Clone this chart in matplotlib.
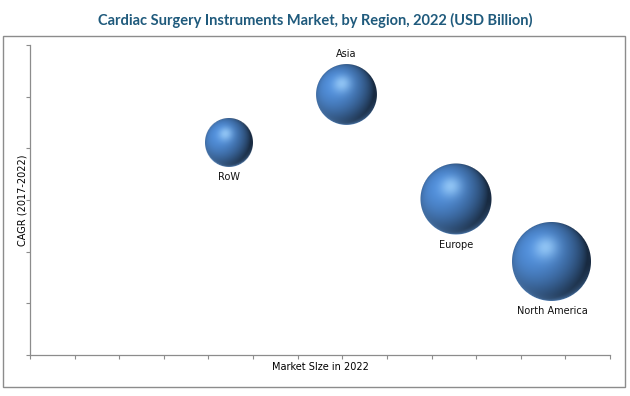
import matplotlib
matplotlib.use("Agg")
import matplotlib.pyplot as plt
import numpy as np
from matplotlib.offsetbox import OffsetImage, AnnotationBbox
from matplotlib.patches import Rectangle

# data (axis units have no labels, 0-13 by 0-6)
regions = ["RoW", "Asia", "Europe", "North America"]
market_size = [4.45, 7.09, 9.54, 11.70]
cagr = [4.10, 5.04, 3.01, 1.81]
bubble_value = [1.00, 1.61, 2.19, 2.71]
label_side = ["below", "above", "below", "below"]

DPI = 100
MAX_R = 39.5  # px radius of the largest bubble


def sphere_image(r):
    """RGBA picture of a shaded blue sphere, radius r px."""
    n = int(np.ceil(2 * r)) + 2
    c = (n - 1) / 2.0
    yy, xx = np.mgrid[0:n, 0:n]
    dx = (xx - c) / r
    dy = -(yy - c) / r
    d = np.sqrt(dx ** 2 + dy ** 2)
    dz = np.sqrt(np.clip(1 - dx ** 2 - dy ** 2, 0, 1))

    light = np.array([-0.5, 0.4, 1.0])
    light = light / np.linalg.norm(light)
    diff = np.clip(dx * light[0] + dy * light[1] + dz * light[2], 0, 1)

    base = np.array([0.29, 0.51, 0.78])
    img = base[None, None, :] * (0.33 + 0.78 * diff[..., None])

    hl = np.array([-0.15, 0.36, 0.92])
    hl = hl / np.linalg.norm(hl)
    spec = np.clip(dx * hl[0] + dy * hl[1] + dz * hl[2], 0, 1) ** 22
    img = img + (np.array([0.66, 0.85, 1.0]) - img) * (0.7 * spec)[..., None]

    rim = (1 - dz) ** 2 * np.clip(-dy - 0.2 * dx + 0.1, 0, 1)
    img = img + (np.array([0.40, 0.62, 0.88]) - img) * np.clip(0.8 * rim, 0, 1)[..., None]

    alpha = np.clip((r - d * r) + 0.5, 0, 1)
    out = np.dstack([np.clip(img, 0, 1), alpha])
    return out


fig = plt.figure(figsize=(6.3, 3.96), dpi=DPI)
fig.patch.set_facecolor("white")

# outer frame
fig.patches.append(Rectangle((3 / 630, 9 / 396), 622 / 630, 351 / 396,
                             transform=fig.transFigure, fill=False,
                             edgecolor="#8c8c8c", linewidth=1.0))

fig.text(0.5, 1 - 20 / 396, "Cardiac Surgery Instruments Market, by Region, 2022 (USD Billion)",
         ha="center", va="center", fontsize=10.5, fontweight="bold",
         color="#1f5a7c", family=["Lato", "DejaVu Sans"])

ax = fig.add_axes([30 / 630, 41 / 396, 580 / 630, 310 / 396])
ax.set_xlim(0, 13)
ax.set_ylim(0, 6)
ax.set_xticks(np.arange(0, 14))
ax.set_yticks(np.arange(0, 7))
ax.tick_params(labelbottom=False, labelleft=False, direction="out",
               length=3, width=0.8, color="#8c8c8c")
for side in ["top", "right"]:
    ax.spines[side].set_visible(False)
for side in ["left", "bottom"]:
    ax.spines[side].set_color("#8c8c8c")
    ax.spines[side].set_linewidth(0.9)

ax.set_xlabel("Market SIze in 2022", fontsize=7, labelpad=2)
ax.set_ylabel("CAGR (2017-2022)", fontsize=7, labelpad=-1)

vmax = max(bubble_value)
for name, x, y, v, side in zip(regions, market_size, cagr, bubble_value, label_side):
    r = MAX_R * np.sqrt(v / vmax)
    im = OffsetImage(sphere_image(r), zoom=72 / DPI, interpolation="bilinear")
    ab = AnnotationBbox(im, (x, y), xycoords="data", frameon=False, pad=0,
                        box_alignment=(0.5, 0.5), zorder=3)
    ax.add_artist(ab)
    off = (r + 10) * 72 / DPI
    ax.annotate(name, (x, y), xytext=(0, off if side == "above" else -off),
                textcoords="offset points", ha="center", va="center",
                fontsize=7, color="#111111")

fig.savefig("out.png", dpi=DPI)
